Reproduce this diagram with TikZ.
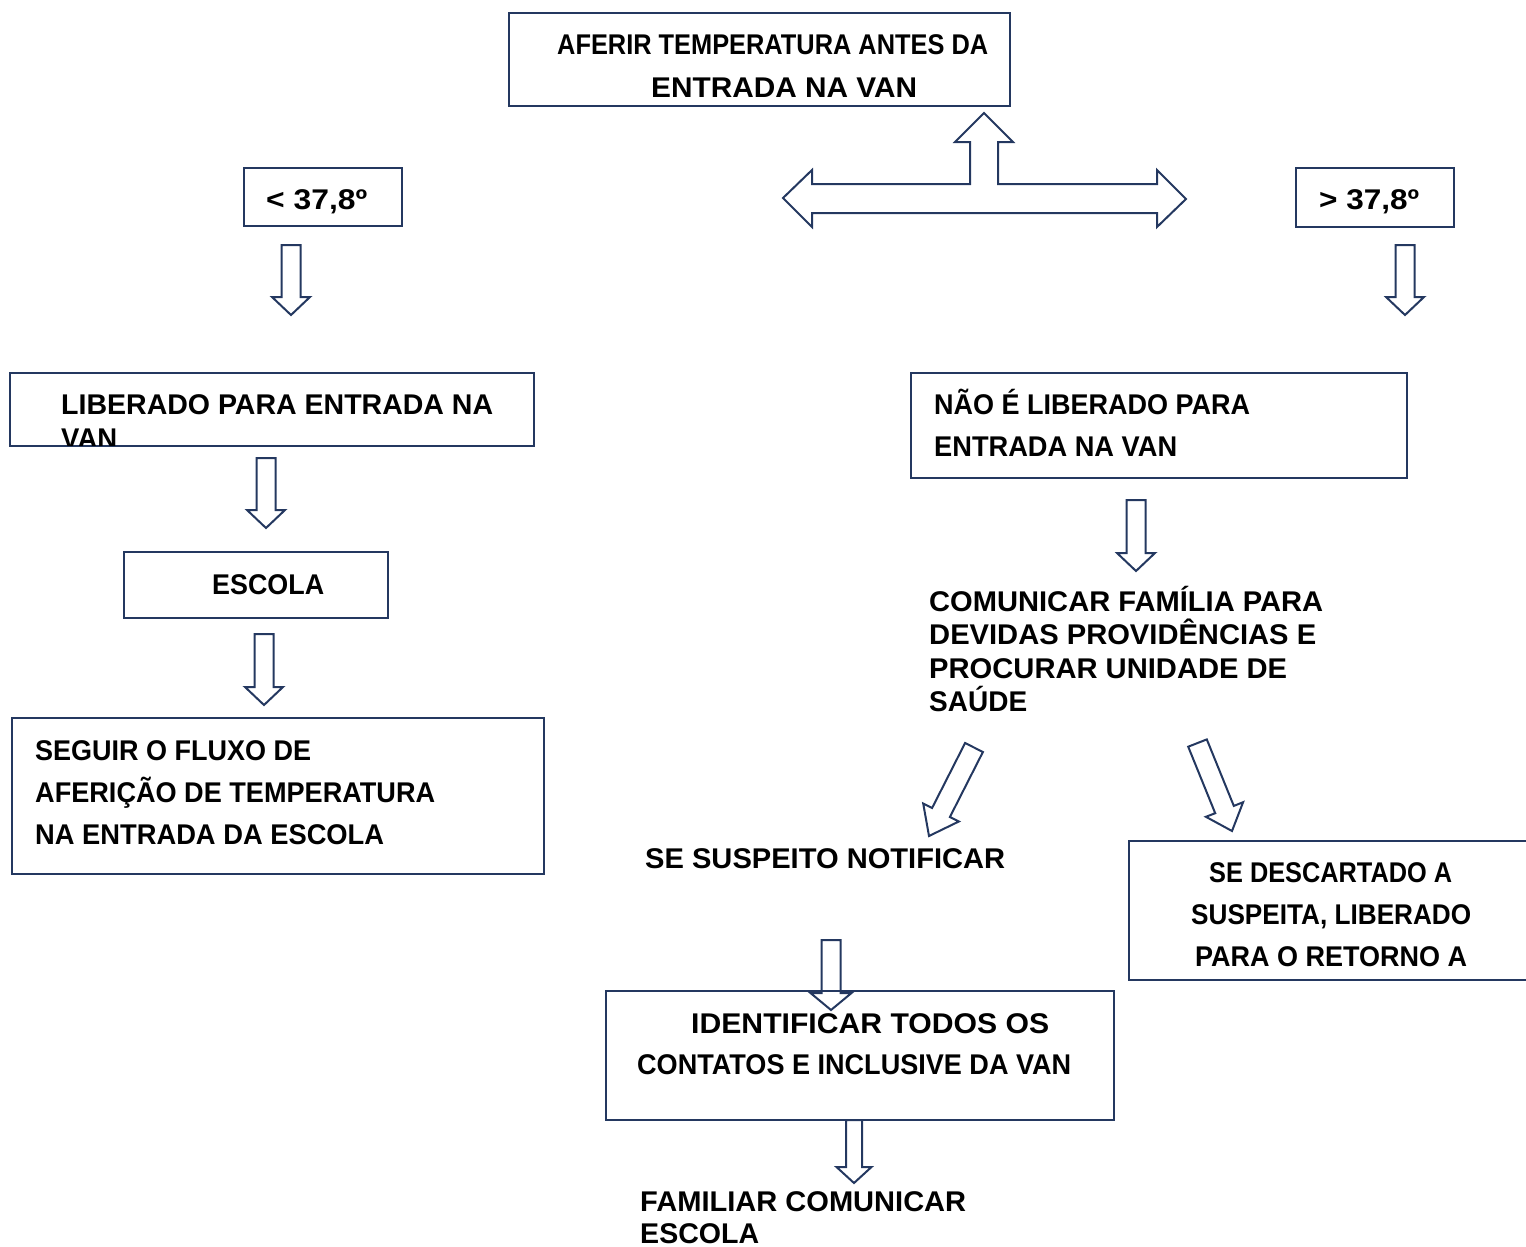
\documentclass[tikz,border=0pt]{standalone}
\usepackage{fontspec}
\usepackage{graphicx}
\setmainfont{Liberation Sans}
\definecolor{navy}{RGB}{36,56,96}
\newcommand{\fitline}[2]{\resizebox{#1pt}{\height}{#2}}
\newcommand{\dnarr}[6]{%
  \draw[blk] ({#1-#4},#2) -- ({#1+#4},#2) -- ({#1+#4},{#3-#6}) -- ({#1+#5},{#3-#6})
    -- (#1,#3) -- ({#1-#5},{#3-#6}) -- ({#1-#4},{#3-#6}) -- cycle;}
\begin{document}
\begin{tikzpicture}[x=1pt,y=-1pt,
  bx/.style={draw=navy, line width=2pt, rectangle, inner sep=0pt},
  blk/.style={draw=navy, line width=2pt, line join=miter},
  txt/.style={anchor=base west, inner sep=0pt, font=\bfseries\fontsize{28.5}{34}\selectfont}]
\useasboundingbox (0,0) rectangle (1526,1247);
\clip (0,0) rectangle (1526,1247);

% boxes
\node[bx, minimum width=501pt, minimum height=93pt] (top) at (759.5,59.5) {};
\node[bx, minimum width=158pt, minimum height=58pt] (lt) at (323,197) {};
\node[bx, minimum width=158pt, minimum height=59pt] (gt) at (1375,197.5) {};
\node[bx, minimum width=524pt, minimum height=73pt] (lib) at (272,409.5) {};
\node[bx, minimum width=264pt, minimum height=66pt] (esc) at (256,585) {};
\node[bx, minimum width=532pt, minimum height=156pt] (seg) at (278,796) {};
\node[bx, minimum width=496pt, minimum height=105pt] (nao) at (1159,425.5) {};
\node[bx, minimum width=411pt, minimum height=139pt] (desc) at (1334.5,910.5) {};
\node[bx, minimum width=508pt, minimum height=129pt] (iden) at (860,1055.5) {};

% texts
\node[txt] (t1a) at (557,55) {\fitline{431}{AFERIR TEMPERATURA ANTES DA}};
\node[txt] (t1b) at (651,97) {\fitline{266}{ENTRADA NA VAN}};
\node[txt] (t2) at (266,209) {\fitline{101}{< 37,8º}};
\node[txt] (t3) at (1319,209) {\fitline{100}{> 37,8º}};
\node[txt] (t4a) at (61,414) {\fitline{432}{LIBERADO PARA ENTRADA NA}};
\begin{scope}
\clip (10,373) rectangle (534,445);
\node[txt] (t4b) at (61,448) {\fitline{56}{VAN}};
\end{scope}
\node[txt] (t5) at (212,594) {\fitline{112}{ESCOLA}};
\node[txt] (t6a) at (35,760) {\fitline{276}{SEGUIR O FLUXO DE}};
\node[txt] (t6b) at (35,802) {\fitline{400}{AFERIÇÃO DE TEMPERATURA}};
\node[txt] (t6c) at (35,844) {\fitline{349}{NA ENTRADA DA ESCOLA}};
\node[txt] (t7a) at (934,414) {\fitline{316}{NÃO É LIBERADO PARA}};
\node[txt] (t7b) at (934,456) {\fitline{243}{ENTRADA NA VAN}};
\node[txt] (t8a) at (929,611) {\fitline{394}{COMUNICAR FAMÍLIA PARA}};
\node[txt] (t8b) at (929,644) {\fitline{387}{DEVIDAS PROVIDÊNCIAS E}};
\node[txt] (t8c) at (929,678) {\fitline{358}{PROCURAR UNIDADE DE}};
\node[txt] (t8d) at (929,711) {\fitline{98}{SAÚDE}};
\node[txt] (t9) at (645,868) {\fitline{360}{SE SUSPEITO NOTIFICAR}};
\node[txt] (t10a) at (1209,882) {\fitline{243}{SE DESCARTADO A}};
\node[txt] (t10b) at (1191,924) {\fitline{280}{SUSPEITA, LIBERADO}};
\node[txt] (t10c) at (1195,966) {\fitline{272}{PARA O RETORNO A}};
\node[txt] (t11a) at (691,1033) {\fitline{358}{IDENTIFICAR TODOS OS}};
\node[txt] (t11b) at (637,1074) {\fitline{434}{CONTATOS E INCLUSIVE DA VAN}};
\node[txt] (t12a) at (640,1211) {\fitline{326}{FAMILIAR COMUNICAR}};
\node[txt] (t12b) at (640,1243) {\fitline{119}{ESCOLA}};

% triple block arrow
\draw[blk] (783,198) -- (812,170) -- (812,184) -- (970,184) -- (970,142) -- (955,142)
  -- (984,113) -- (1013,142) -- (998,142) -- (998,184) -- (1157,184) -- (1157,170)
  -- (1186,199) -- (1157,227) -- (1157,213) -- (812,213) -- (812,227) -- cycle;

% down block arrows
\dnarr{291}{245}{315}{9.5}{19}{18}
\dnarr{1405}{245}{315}{9.5}{19}{18}
\dnarr{266}{458}{528}{9.5}{19}{18}
\dnarr{264}{634}{705}{9.5}{19}{18}
\dnarr{1136}{500}{571}{9.5}{19}{18}
\dnarr{831}{940}{1010}{9.5}{20.5}{17}
\dnarr{854}{1120}{1183}{8}{17.5}{16}

% diagonal block arrows
\draw[blk] (965.1,743) -- (982.9,752) -- (949.9,817) -- (958.8,821.5) -- (929,836)
  -- (923.2,803.5) -- (932.1,808) -- cycle;
\draw[blk] (1188.2,746.7) -- (1206.8,739.4) -- (1233.8,805.9) -- (1243.1,802.2)
  -- (1232,831) -- (1205.9,816.8) -- (1215.2,813.2) -- cycle;
\end{tikzpicture}
\end{document}
